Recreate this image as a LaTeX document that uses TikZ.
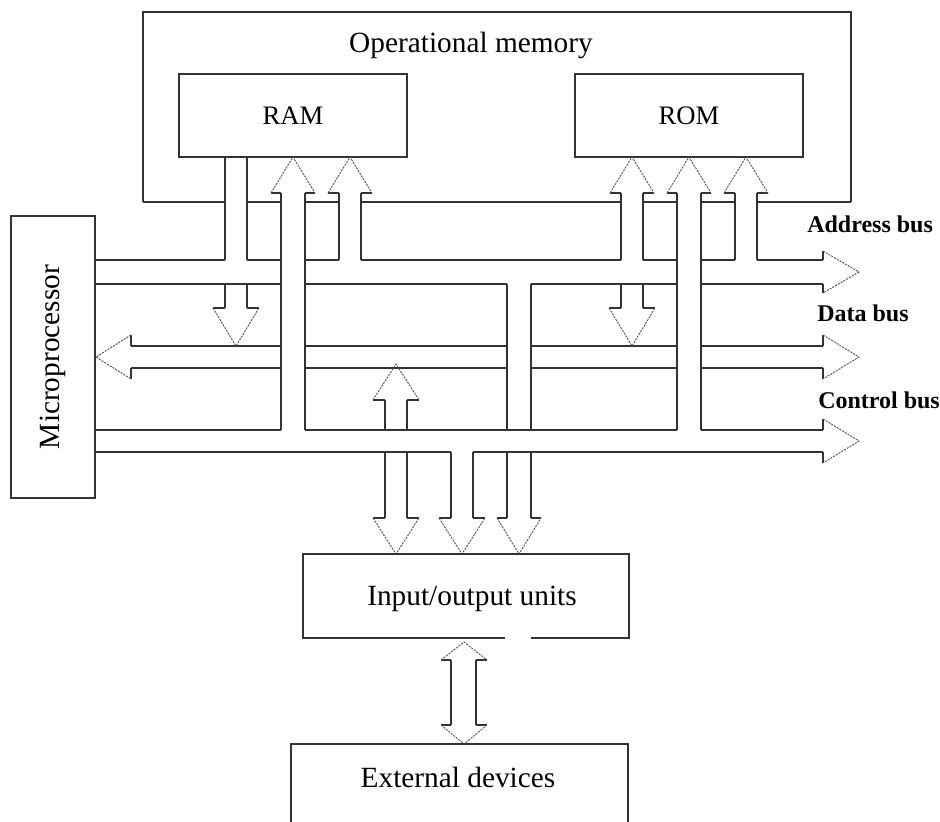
\documentclass[tikz,border=0pt]{standalone}
\usepackage{fontspec}
\setmainfont{Liberation Serif}

% vertical hollow arrow head: shaft x-left, shaft x-right, head x-left, head x-right, base y, tip y
\newcommand{\vhead}[6]{%
  \draw[bus] (#1,#5) -- (#3,#5);
  \draw[bus] (#2,#5) -- (#4,#5);
  \draw[tipline] (#3,#5) -- ({(#3+#4)/2},#6) -- (#4,#5);
}
% horizontal hollow arrow head: shaft y-top, shaft y-bottom, head y-top, head y-bottom, base x, tip x
\newcommand{\hhead}[6]{%
  \draw[bus] (#5,#1) -- (#5,#3);
  \draw[bus] (#5,#2) -- (#5,#4);
  \draw[tipline] (#5,#3) -- (#6,{(#3+#4)/2}) -- (#5,#4);
}

\begin{document}
\begin{tikzpicture}[x=0.75pt,y=-0.75pt,
  bus/.style={line width=0.9pt, draw=black!80},
  tipline/.style={line width=0.7pt, draw=black!65, dash pattern=on 1.6pt off 0.8pt},
  box/.style={bus, draw, rectangle, inner sep=0pt},
  lbl/.style={font=\fontsize{22}{26}\selectfont, inner sep=0pt},
  boxlbl/.style={font=\fontsize{20}{24}\selectfont},
  buslbl/.style={font=\bfseries\fontsize{18}{22}\selectfont, inner sep=0pt, anchor=west}]
\useasboundingbox (0,0) rectangle (940,822);
\fill[white] (0,0) rectangle (940,822);
\clip (0,0) rectangle (940,822);

% ---- operational memory frame (bottom edge broken by the bus shafts)
\draw[bus] (143,202) -- (143,12) -- (851,12) -- (851,202);
\foreach \a/\b in {143/225,247/281,305/339,361/621,643/677,701/735,757/851}
  \draw[bus] (\a,202) -- (\b,202);
\node[lbl] (opmem) at (471,45) {Operational memory};

% ---- memory blocks
\node[box, boxlbl, minimum width=171pt, minimum height=62.25pt] (ram) at (293,115.5) {RAM};
\node[box, boxlbl, minimum width=171pt, minimum height=62.25pt] (rom) at (689,115.5) {ROM};

% ---- microprocessor
\node[box, lbl, rotate=90, minimum width=211.5pt, minimum height=63pt] (cpu) at (53,357) {Microprocessor};

% ---- address bus
\foreach \a/\b in {95/225,247/281,305/339,361/621,643/677,701/735,757/823}
  \draw[bus] (\a,260) -- (\b,260);
\foreach \a/\b in {95/281,305/507,531/677,701/823}
  \draw[bus] (\a,284) -- (\b,284);
\hhead{260}{284}{251}{293}{823}{859}
\node[buslbl] (abus) at (807,224) {Address bus};

% ---- data bus
\foreach \a/\b in {131/281,305/507,531/677,701/823}{
  \draw[bus] (\a,346) -- (\b,346);
  \draw[bus] (\a,368) -- (\b,368);
}
\hhead{346}{368}{335}{379}{131}{96}
\hhead{346}{368}{335}{379}{823}{859}
\node[buslbl] (dbus) at (817,313) {Data bus};

% ---- control bus
\foreach \a/\b in {95/281,305/677,701/823}
  \draw[bus] (\a,430) -- (\b,430);
\foreach \a/\b in {95/451,473/823}
  \draw[bus] (\a,452) -- (\b,452);
\hhead{430}{452}{419}{463}{823}{859}
\node[buslbl] (cbus) at (818,400) {Control bus};

% ---- vertical shafts
\foreach \x/\ya/\yb in {
  225/157/260, 225/284/308, 247/157/260, 247/284/308,
  281/193/430, 305/193/430,
  339/193/260, 361/193/260,
  621/193/260, 621/284/308, 643/193/260, 643/284/308,
  677/193/430, 701/193/430,
  735/193/260, 757/193/260,
  385/400/430, 385/452/518, 407/400/430, 407/452/518,
  451/452/518, 473/452/518,
  507/284/430, 507/452/518, 531/284/430, 531/452/518,
  451/660/725, 476/660/725}
  \draw[bus] (\x,\ya) -- (\x,\yb);

% ---- arrow heads on the shafts
\vhead{225}{247}{213}{259}{308}{346}
\vhead{281}{305}{271}{315}{193}{157}
\vhead{339}{361}{328}{372}{193}{157}
\vhead{621}{643}{610}{654}{193}{157}
\vhead{621}{643}{609}{655}{308}{346}
\vhead{677}{701}{667}{711}{193}{157}
\vhead{735}{757}{724}{768}{193}{157}
\vhead{385}{407}{373}{419}{400}{364}
\vhead{385}{407}{373}{419}{518}{554}
\vhead{451}{473}{439}{485}{518}{554}
\vhead{507}{531}{497}{541}{518}{554}
\vhead{451}{476}{441}{487}{660}{642}
\vhead{451}{476}{441}{487}{725}{744}

% ---- input/output units
\draw[bus] (505,638) -- (303,638) -- (303,554) -- (629,554) -- (629,638) -- (531,638);
\node[lbl] (io) at (472,599) {Input/output units};

% ---- external devices
\draw[bus] (291,830) -- (291,744) -- (628,744) -- (628,830);
\node[lbl] (ext) at (458,777) {External devices};
\end{tikzpicture}
\end{document}
